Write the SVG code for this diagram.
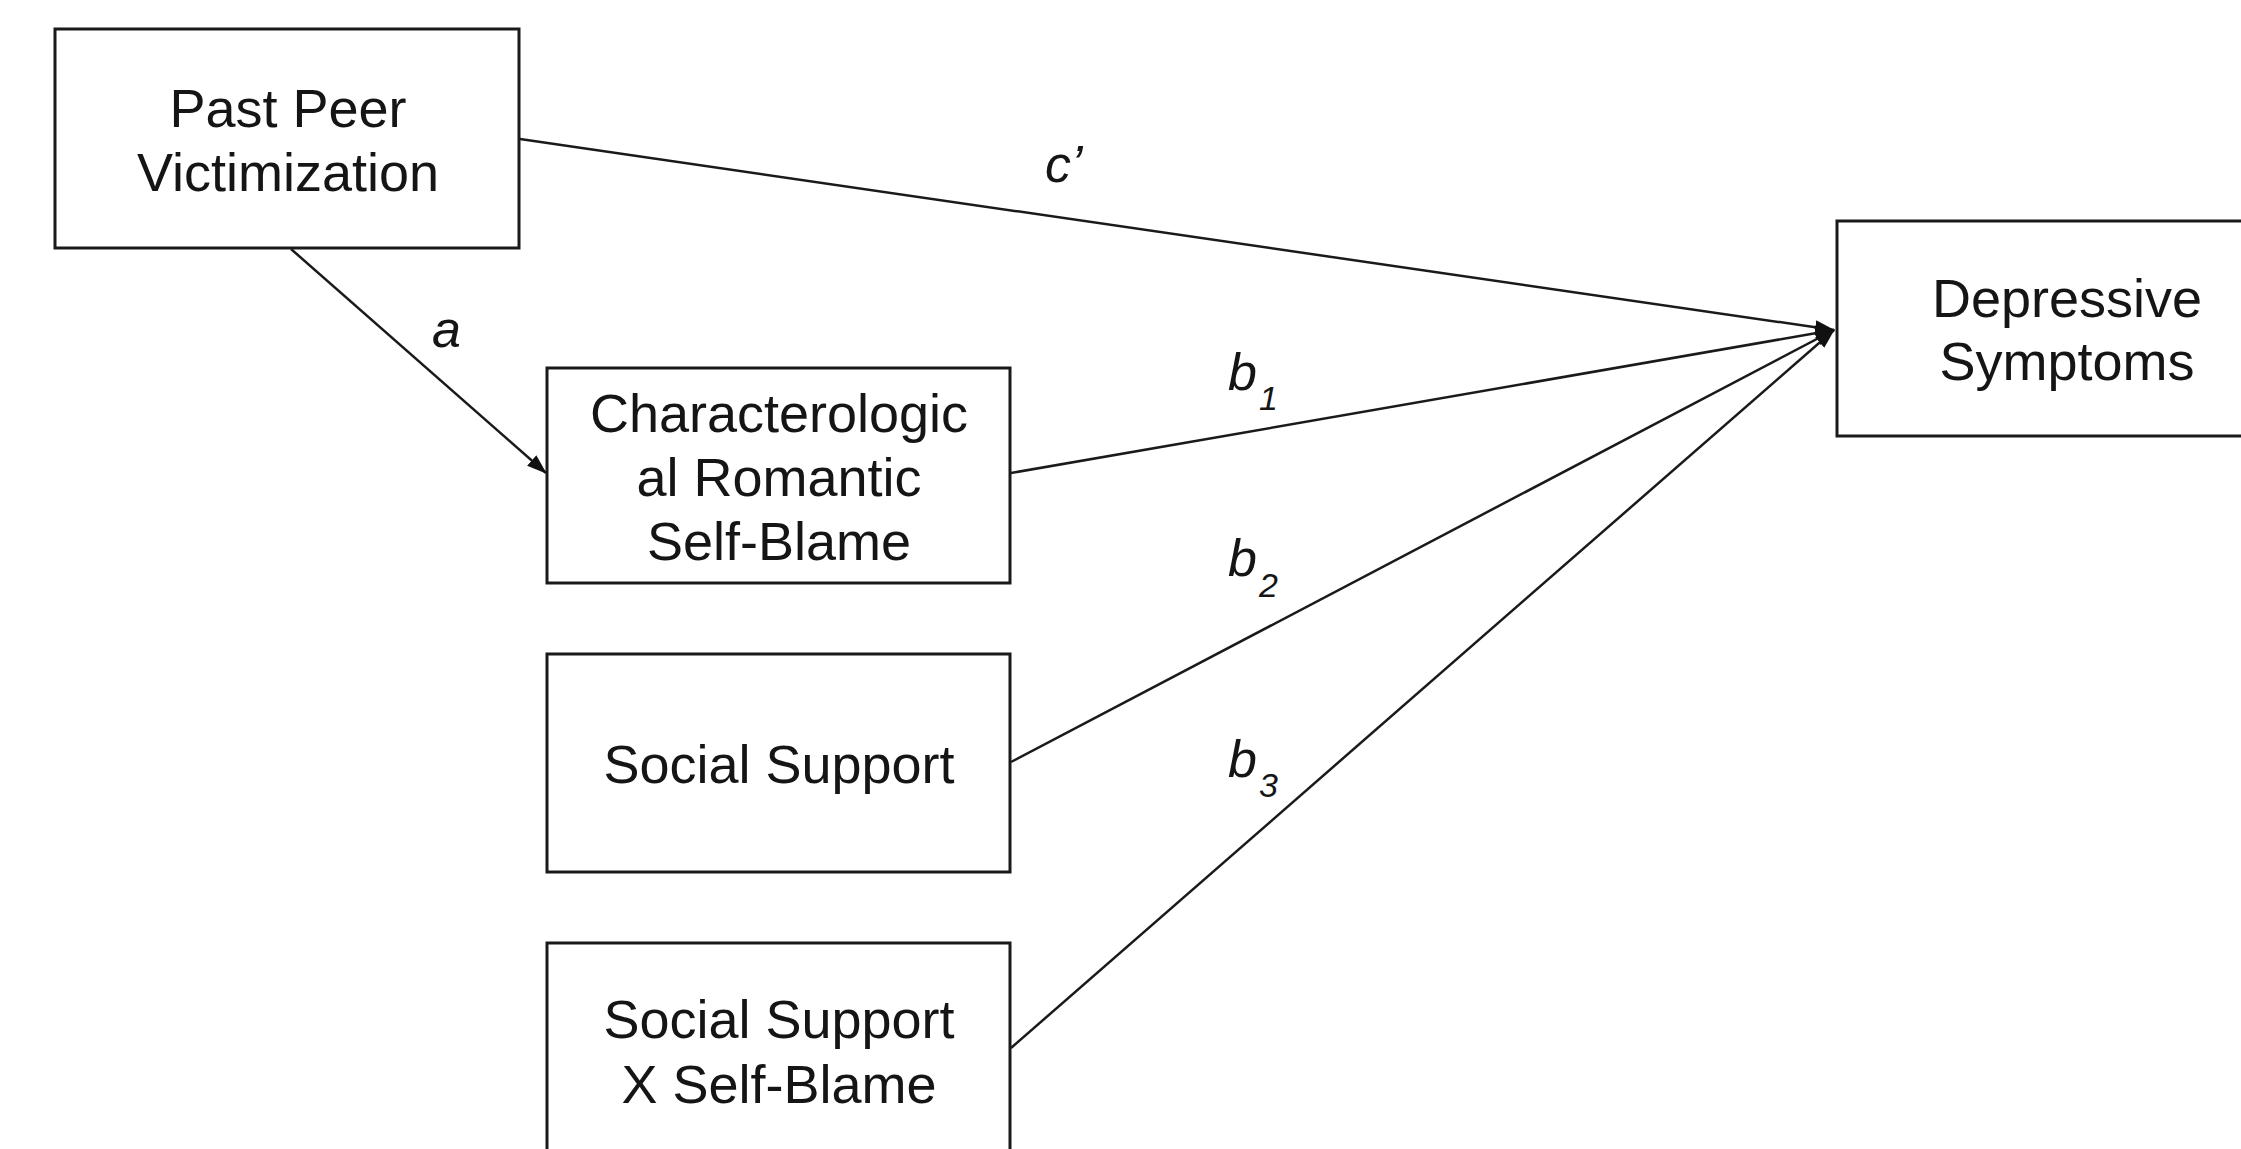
<svg xmlns="http://www.w3.org/2000/svg" width="2241" height="1149" viewBox="0 0 2241 1149">
<style>
.box{fill:#fff;stroke:#1a1a1a;stroke-width:3}
.t{font-family:"Liberation Sans",Arial,sans-serif;font-size:54px;fill:#151515;text-anchor:middle}
.lbl{font-family:"Liberation Sans",Arial,sans-serif;font-size:52px;font-style:italic;fill:#151515}
.sub{font-size:34px}
.edge{stroke:#1a1a1a;stroke-width:2.5;fill:none;marker-end:url(#arr)}
</style>
<defs>
<marker id="arr" markerUnits="userSpaceOnUse" markerWidth="20" markerHeight="14" refX="19" refY="7" orient="auto">
<path d="M0,0 L20,7 L0,14 Z" fill="#111"/>
</marker>
</defs>
<rect width="2241" height="1149" fill="#fff"/>
<g id="connectors">
<line class="edge" x1="520" y1="139" x2="1834" y2="330"/>
<line class="edge" x1="291" y1="249" x2="546" y2="473"/>
<line class="edge" x1="1011" y1="473" x2="1834" y2="330"/>
<line class="edge" x1="1011" y1="762" x2="1834" y2="330"/>
<line class="edge" x1="1011" y1="1048" x2="1834" y2="330"/>
<text class="lbl" x="1045" y="182">c’</text>
<text class="lbl" x="432" y="347">a</text>
<text class="lbl" x="1228" y="390">b<tspan class="sub" dx="2" dy="20">1</tspan></text>
<text class="lbl" x="1228" y="576">b<tspan class="sub" dx="2" dy="21">2</tspan></text>
<text class="lbl" x="1228" y="777">b<tspan class="sub" dx="2" dy="20">3</tspan></text>
</g>
<g id="past-peer-victimization">
<rect class="box" x="55" y="29" width="464" height="219"/>
<text class="t" x="288" y="127">Past Peer</text>
<text class="t" x="288" y="191">Victimization</text>
</g>
<g id="characterological-self-blame">
<rect class="box" x="547" y="368" width="463" height="215"/>
<text class="t" x="779" y="432">Characterologic</text>
<text class="t" x="779" y="496">al Romantic</text>
<text class="t" x="779" y="560">Self-Blame</text>
</g>
<g id="social-support">
<rect class="box" x="547" y="654" width="463" height="218"/>
<text class="t" x="779" y="783">Social Support</text>
</g>
<g id="support-x-self-blame">
<rect class="box" x="547" y="943" width="463" height="230"/>
<text class="t" x="779" y="1038">Social Support</text>
<text class="t" x="779" y="1103">X Self-Blame</text>
</g>
<g id="depressive-symptoms">
<rect class="box" x="1837" y="221" width="460" height="215"/>
<text class="t" x="2067" y="317">Depressive</text>
<text class="t" x="2067" y="380">Symptoms</text>
</g>
</svg>
